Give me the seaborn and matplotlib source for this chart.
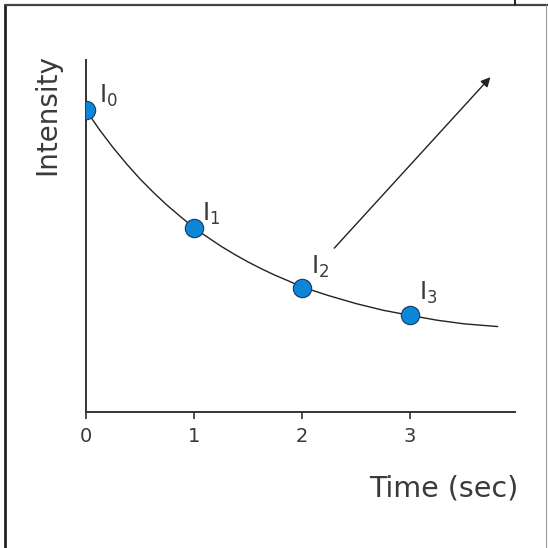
import numpy as np
import pandas as pd
import seaborn as sns
import matplotlib.pyplot as plt
from matplotlib.lines import Line2D

# measured intensities at t = 0..3 s (I0 scaled to 1)
times = [0, 1, 2, 3]
intensity = [1.0, 0.61, 0.41, 0.32]
point_labels = ["$\\mathregular{I_0}$", "$\\mathregular{I_1}$",
                "$\\mathregular{I_2}$", "$\\mathregular{I_3}$"]

# decay curve
curve_t = [0, 0.125, 0.25, 0.375, 0.5, 0.625, 0.75, 0.875, 1.0,
           1.125, 1.25, 1.375, 1.5, 1.625, 1.75, 1.875, 2.0,
           2.25, 2.5, 2.75, 3.0, 3.25, 3.5, 3.81]
curve_i = [1.0, 0.935, 0.876, 0.822, 0.772, 0.727, 0.685, 0.647, 0.61,
           0.579, 0.549, 0.522, 0.497, 0.474, 0.453, 0.434, 0.414,
           0.385, 0.359, 0.337, 0.32, 0.304, 0.292, 0.283]

tick_vals = [0, 1, 2, 3]
tick_text = ["0", "1", "2", "3"]

pts = pd.DataFrame({"time": times, "intensity": intensity})
curve = pd.DataFrame({"time": curve_t, "intensity": curve_i})

sns.set_style("white")
plt.rcParams["font.family"] = ["DejaVu Sans"]

fig = plt.figure(figsize=(5.48, 5.48), dpi=100)
ax = fig.add_axes([86 / 548, 1 - 412 / 548, (515 - 86) / 548, (412 - 60) / 548])

sns.lineplot(data=curve, x="time", y="intensity", color="#222222",
             linewidth=1.0, ax=ax, zorder=2)
sns.scatterplot(data=pts, x="time", y="intensity", s=175, color="#0b86d8",
                edgecolor="#1a3a5a", linewidth=0.8, ax=ax, zorder=3)

# labels I0..I3 next to each point
offsets = [(13, 7), (8, 7), (9, 14), (9, 16)]
for t, v, lab, off in zip(times, intensity, point_labels, offsets):
    ax.annotate(lab, (t, v), xytext=off, textcoords="offset pixels",
                fontsize=17, color="#3a3a3a", ha="left", va="baseline")

# arrow
ax.annotate("", xy=(3.76, 1.116), xytext=(2.28, 0.536),
            arrowprops=dict(arrowstyle="-|>", color="#222222", lw=1.0,
                            mutation_scale=14))

ax.set_xlim(0, 3.97)
ax.set_ylim(0, 1.166)
ax.set_xticks(tick_vals)
ax.set_xticklabels(tick_text)
ax.set_yticks([])
ax.tick_params(axis="x", direction="out", length=5, width=1.2,
               color="#333333", labelsize=14, labelcolor="#3a3a3a", pad=6,
               bottom=True)
for side in ["top", "right"]:
    ax.spines[side].set_visible(False)
for side in ["left", "bottom"]:
    ax.spines[side].set_color("#333333")
    ax.spines[side].set_linewidth(1.4)
ax.set_xlabel("")
ax.set_ylabel("")

ax.text(-0.091, 0.844, "Intensity", transform=ax.transAxes, rotation=90,
        ha="center", va="center", fontsize=20, color="#3a3a3a")
ax.text(0.835, -0.216, "Time (sec)", transform=ax.transAxes,
        ha="center", va="center", fontsize=20.5, color="#3a3a3a")

# outer frame
fig.add_artist(Line2D([5 / 548, 5 / 548], [0, 1 - 5 / 548], transform=fig.transFigure,
                      color="#222222", lw=2))
fig.add_artist(Line2D([5 / 548, 1], [1 - 5 / 548, 1 - 5 / 548], transform=fig.transFigure,
                      color="#444444", lw=1.6))
fig.add_artist(Line2D([546 / 548, 546 / 548], [0, 1 - 5 / 548], transform=fig.transFigure,
                      color="#999999", lw=0.8))
fig.add_artist(Line2D([515 / 548, 515 / 548], [1 - 5 / 548, 1], transform=fig.transFigure,
                      color="#222222", lw=1.4))

fig.savefig("out.png", dpi=100)
